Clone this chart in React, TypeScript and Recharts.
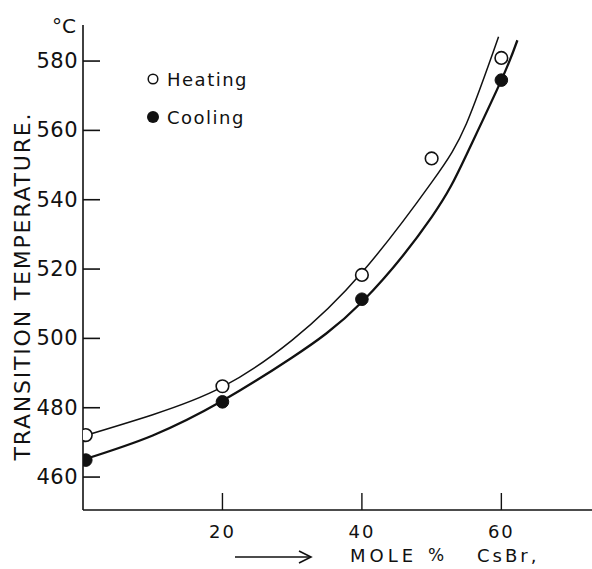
import React from "react";
import { ComposedChart, Line, Scatter, XAxis, YAxis } from "recharts";

// Measured points (mole % CsBr vs transition temperature, °C)
const heatingX = [0.4, 20, 40, 50, 60];
const heatingY = [472.1, 486.2, 518.3, 551.9, 580.9];
const coolingX = [0.4, 20, 40, 60];
const coolingY = [464.9, 481.7, 511.3, 574.5];

// Smooth fitted curves
const heatingCurveX = [0, 10, 20, 30, 40, 50, 55, 59.6];
const heatingCurveY = [471.8, 478, 486, 499.5, 519, 545, 562, 587];
const coolingCurveX = [0, 10, 20, 30, 40, 50, 55, 60, 62.3];
const coolingCurveY = [465, 472, 482, 494.5, 510.5, 535, 553, 574.5, 586];

const xTicks = [20, 40, 60];
const yTicks = [460, 480, 500, 520, 540, 560, 580];

const toPts = (xs: number[], ys: number[]) => xs.map((x, i) => ({ x, y: ys[i] }));
const heatingPts = toPts(heatingX, heatingY);
const coolingPts = toPts(coolingX, coolingY);
const heatingCurve = toPts(heatingCurveX, heatingCurveY);
const coolingCurve = toPts(coolingCurveX, coolingCurveY);

const FONT = "'DejaVu Sans', sans-serif";
const INK = "#111";
const AXIS_X = 83;
const AXIS_Y = 510;

const YTick = (props: any) => {
  const { y, payload } = props;
  return (
    <g>
      <line x1={AXIS_X} x2={AXIS_X + 17} y1={y} y2={y} stroke={INK} strokeWidth={1.6} />
      <text x={78} y={y} textAnchor="end" dominantBaseline="central" fontFamily={FONT} fontSize={21} fill={INK} letterSpacing={0.5}>
        {payload.value}
      </text>
    </g>
  );
};

const XTick = (props: any) => {
  const { x, payload } = props;
  return (
    <g>
      <line x1={x} x2={x} y1={AXIS_Y - 17} y2={AXIS_Y} stroke={INK} strokeWidth={1.4} />
      <text x={x} y={531} textAnchor="middle" dominantBaseline="central" fontFamily={FONT} fontSize={18} fill={INK} letterSpacing={2}>
        {payload.value}
      </text>
    </g>
  );
};

const OpenDot = (props: any) => {
  const { cx, cy } = props;
  return <circle cx={cx} cy={cy} r={6.3} fill="#fff" stroke={INK} strokeWidth={1.6} />;
};
const FilledDot = (props: any) => {
  const { cx, cy } = props;
  return <circle cx={cx} cy={cy} r={6.3} fill={INK} stroke={INK} strokeWidth={1} />;
};

export default function App() {
  return (
    <div style={{ position: "absolute", left: 0, top: 0, width: 592, height: 569, background: "#fff" }}>
      <ComposedChart width={592} height={569} margin={{ top: 25, right: 0, bottom: 0, left: 0 }}>
        <XAxis
          type="number"
          dataKey="x"
          domain={[0, 73]}
          ticks={xTicks}
          allowDataOverflow
          height={59}
          axisLine={{ stroke: INK, strokeWidth: 1.6 }}
          tickLine={false}
          tick={<XTick />}
        />
        <YAxis
          type="number"
          dataKey="y"
          domain={[450.5, 590.4]}
          ticks={yTicks}
          allowDataOverflow
          width={83}
          axisLine={{ stroke: INK, strokeWidth: 1.6 }}
          tickLine={false}
          tick={<YTick />}
        />
        <Line data={heatingCurve} dataKey="y" type="natural" stroke={INK} strokeWidth={1.5} dot={false} isAnimationActive={false} />
        <Line data={coolingCurve} dataKey="y" type="natural" stroke={INK} strokeWidth={2.3} dot={false} isAnimationActive={false} />
        <Scatter data={heatingPts} dataKey="y" shape={<OpenDot />} isAnimationActive={false} />
        <Scatter data={coolingPts} dataKey="y" shape={<FilledDot />} isAnimationActive={false} />
      </ComposedChart>
      <svg width={592} height={569} style={{ position: "absolute", left: 0, top: 0, pointerEvents: "none" }}>
        <text x={64} y={26} textAnchor="middle" dominantBaseline="central" fontFamily={FONT} fontSize={20} fill={INK}>°C</text>
        <circle cx={153} cy={79} r={4.8} fill="#fff" stroke={INK} strokeWidth={1.5} />
        <text x={167} y={79} dominantBaseline="central" fontFamily={FONT} fontSize={18} fill={INK} letterSpacing={1.5}>Heating</text>
        <circle cx={153} cy={117} r={6} fill={INK} />
        <text x={167} y={117} dominantBaseline="central" fontFamily={FONT} fontSize={18} fill={INK} letterSpacing={1.5}>Cooling</text>
        <text
          x={22}
          y={287}
          transform="rotate(-90 22 287)"
          textAnchor="middle"
          dominantBaseline="central"
          fontFamily={FONT}
          fontSize={22}
          fill={INK}
          textLength={347}
          lengthAdjust="spacing"
        >
          TRANSITION TEMPERATURE.
        </text>
        <line x1={235} x2={310} y1={557} y2={557} stroke={INK} strokeWidth={1.6} />
        <path d="M299 551 L311 557 L299 563" fill="none" stroke={INK} strokeWidth={1.6} />
        <text x={350} y={555} dominantBaseline="central" fontFamily={FONT} fontSize={18} fill={INK} letterSpacing={4}>MOLE</text>
        <text x={428} y={555} dominantBaseline="central" fontFamily={FONT} fontSize={17} fill={INK}>%</text>
        <text x={477} y={555} dominantBaseline="central" fontFamily={FONT} fontSize={18} fill={INK} letterSpacing={3}>CsBr,</text>
      </svg>
    </div>
  );
}
